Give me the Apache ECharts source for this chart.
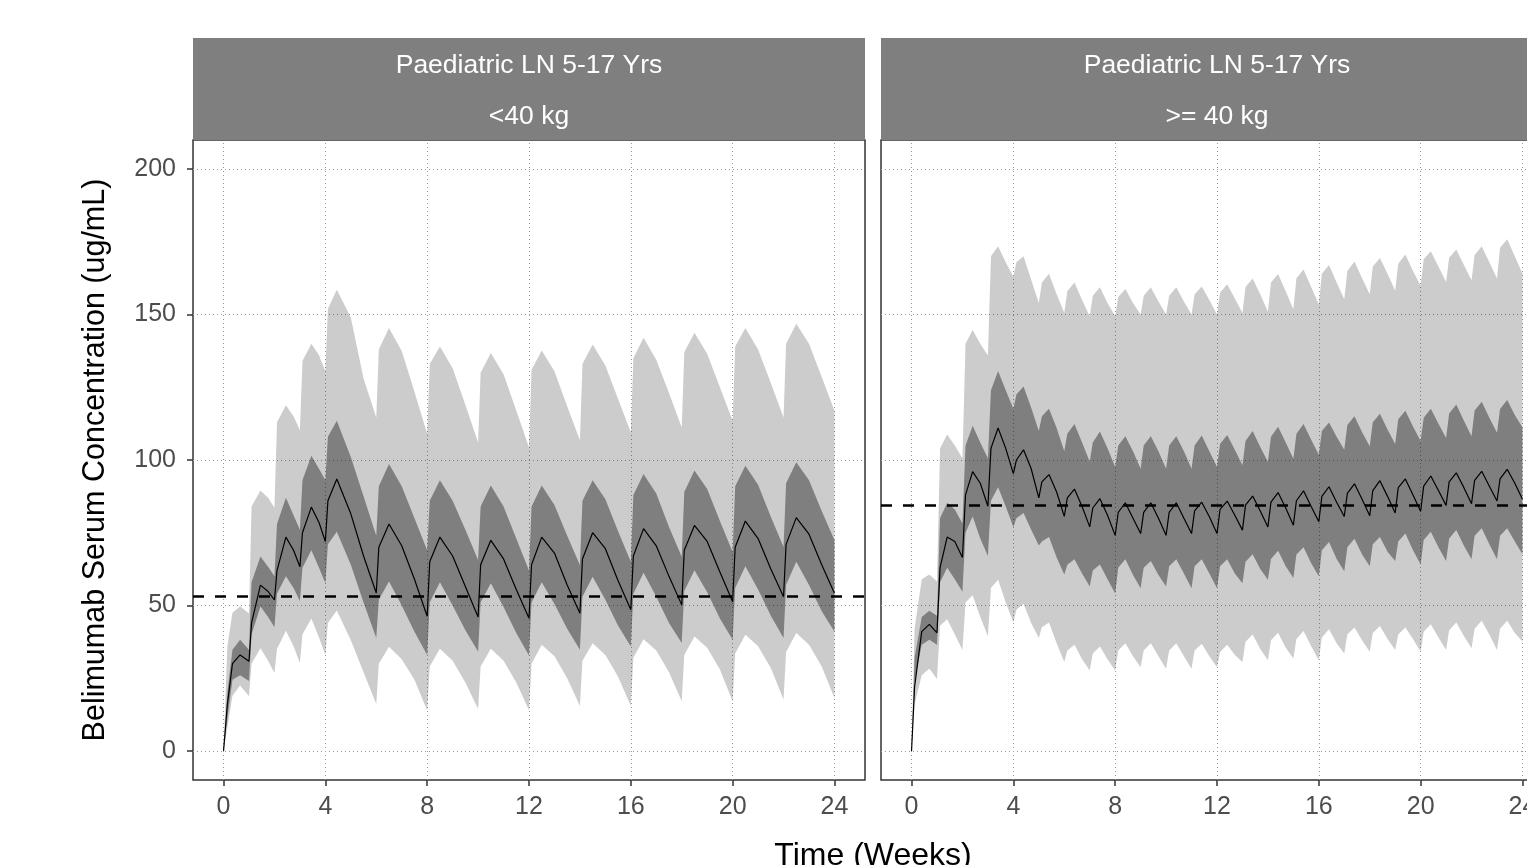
<!DOCTYPE html>
<html>
<head>
<meta charset="utf-8">
<title>Belimumab serum concentration - Paediatric LN</title>
<script src="https://cdn.jsdelivr.net/npm/echarts@6.0.0/dist/echarts.min.js"></script>
<style>
  html, body { margin: 0; padding: 0; background: #fff; overflow: hidden; }
  #chart { width: 1527px; height: 865px; }
</style>
</head>
<body>
<div id="chart"></div>
<script>
// axis ticks
const weekTicks = [0, 4, 8, 12, 16, 20, 24];
const concTicks = [0, 50, 100, 150, 200];

const stripTitle = 'Paediatric LN 5-17 Yrs';
const stripGroups = ['<40 kg', '>= 40 kg'];
const targetConc = [53.2, 84.4]; // dashed line, one per panel

// <40 kg panel: weeks and 5th / 25th / 50th / 75th / 95th percentiles (ug/mL)
const lowWtWeeks = [
  0, 0.15, 0.35, 0.65,
  1, 1.1, 1.45, 1.75,
  2, 2.1, 2.45, 2.75,
  3, 3.1, 3.45, 3.75,
  4, 4.1, 4.45, 5, 5.5,
  6, 6.1, 6.5, 7, 7.5,
  8, 8.1, 8.5, 9, 9.5,
  10, 10.1, 10.5, 11, 11.5,
  12, 12.1, 12.5, 13, 13.5,
  14, 14.1, 14.5, 15, 15.5,
  16, 16.1, 16.5, 17, 17.5,
  18, 18.1, 18.5, 19, 19.5,
  20, 20.1, 20.5, 21, 21.5,
  22, 22.1, 22.5, 23, 23.5,
  24
];
const lowWtP05 = [
  0, 8, 19, 22.5,
  18.8, 30, 35.3, 31,
  26.8, 35, 41.3, 36,
  30.2, 40, 45.5, 39,
  33, 44, 48.3, 38, 27,
  16.1, 30, 35.8, 31.5, 24.5,
  13.9, 29, 35.1, 31, 23.5,
  14.4, 29, 35.1, 31, 23.5,
  14, 30, 36.5, 32.5, 25,
  15.4, 31, 37, 33, 25.5,
  15.4, 32, 38.4, 34.5, 27,
  17.1, 33, 39.3, 35.5, 28,
  17.1, 33.5, 39.9, 36, 28.5,
  17.7, 34, 40.5, 36.5, 29,
  18.2
];
const lowWtP25 = [
  0, 11, 24.5, 26,
  24, 40, 49.6, 46,
  42.5, 54, 60, 56,
  51.5, 63, 69, 63,
  57.6, 71, 75.3, 64, 51,
  38.8, 52, 58.2, 50, 41,
  33, 51, 58, 50, 41.5,
  34.2, 51, 57.6, 49.5, 40.5,
  32.8, 51, 58, 50.5, 42,
  34.8, 53, 59.9, 52, 43,
  35.9, 54, 61.2, 53, 44,
  37.1, 55, 62.1, 54.5, 45.5,
  38.2, 56, 63.5, 55.5, 46.5,
  38.8, 57, 65, 57, 48,
  41
];
const lowWtP50 = [
  0, 16, 30, 33,
  30.8, 44, 57, 54.8,
  51.9, 62, 73.5, 69,
  63.3, 75, 83.8, 78.5,
  72, 86, 93.5, 81.5, 67,
  54.3, 70, 78, 70.5, 59,
  46.3, 65, 73.5, 67, 56.5,
  46, 64, 72.4, 66, 55.5,
  45.6, 64, 73.5, 68, 57,
  47.3, 66, 75, 69.5, 58.5,
  48.5, 67, 76.4, 70.5, 60,
  50.2, 69, 77.5, 72, 61.5,
  51.3, 70, 79, 73, 62.5,
  53, 71, 80.2, 74.5, 64,
  54.2
];
const lowWtP75 = [
  0, 20, 34.8, 38.2,
  34.8, 58, 66.8, 63.3,
  60, 78, 87, 81,
  76, 93, 101.5, 97,
  93, 108, 113.5, 101, 87.5,
  74, 91, 98.6, 91, 80,
  69, 86, 93, 86, 76,
  65.6, 84, 91.2, 84, 73,
  62, 84, 91.2, 84.5, 74,
  63.9, 86, 93, 86.5, 75.5,
  65, 88, 95.2, 88.5, 77,
  66.7, 89, 96.4, 90, 79,
  68.4, 91, 98, 91.5, 80.5,
  70.1, 92, 99.2, 93, 82.5,
  72.4
];
const lowWtP95 = [
  0, 36, 47.5, 49.7,
  47.2, 84, 89.5, 87,
  83.6, 113, 118.8, 115,
  110.2, 134, 140, 136,
  130.5, 152, 158.5, 149, 128,
  114.6, 138, 145.4, 137.5, 123.5,
  109, 133, 139, 131.5, 119,
  106, 130, 136.8, 129.5, 117,
  104.3, 131, 137.6, 130.5, 118.5,
  106.8, 133, 139.7, 132.5, 121,
  109.5, 135, 142, 134.5, 123,
  111.2, 137, 143.7, 136.5, 125,
  113.5, 139, 145.4, 138, 126.5,
  114.6, 140, 146.8, 140, 128.5,
  116.9
];

// >= 40 kg panel
const highWtWeeks = [
  0, 0.12, 0.4, 0.7,
  1, 1.12, 1.4, 1.7,
  2, 2.12, 2.4, 2.7,
  3, 3.12, 3.4, 3.7,
  4, 4.12, 4.4, 4.7,
  5, 5.12, 5.4, 5.7,
  6, 6.12, 6.4, 6.7,
  7, 7.12, 7.4, 7.7,
  8, 8.12, 8.4, 8.7,
  9, 9.12, 9.4, 9.7,
  10, 10.12, 10.4, 10.7,
  11, 11.12, 11.4, 11.7,
  12, 12.12, 12.4, 12.7,
  13, 13.12, 13.4, 13.7,
  14, 14.12, 14.4, 14.7,
  15, 15.12, 15.4, 15.7,
  16, 16.12, 16.4, 16.7,
  17, 17.12, 17.4, 17.7,
  18, 18.12, 18.4, 18.7,
  19, 19.12, 19.4, 19.7,
  20, 20.12, 20.4, 20.7,
  21, 21.12, 21.4, 21.7,
  22, 22.12, 22.4, 22.7,
  23, 23.12, 23.4, 23.7,
  24
];
const highWtP05 = [
  0, 16, 26, 28.2,
  24.7, 43, 45.3, 40,
  34.7, 51, 53.5, 46,
  39.4, 56, 58.8, 51,
  44.1, 48.5, 50.6, 44,
  38.8, 42.5, 44.1, 37,
  30.6, 34.5, 36.5, 31.5,
  27.6, 33.5, 35.9, 31.5,
  27.6, 34.5, 37, 32.5,
  28.8, 34.5, 37, 32.5,
  28.2, 34.5, 37, 32.5,
  28.2, 34.5, 36.8, 32.5,
  28.8, 34, 36.5, 33,
  30.6, 37.5, 40, 35,
  31.2, 38, 40.6, 35.5,
  31.8, 38.5, 41.2, 36,
  31.2, 39, 41.8, 37,
  33.5, 40, 42.4, 38,
  34.1, 40.5, 42.9, 38.5,
  34.7, 40, 42.4, 38.5,
  34.1, 41, 43.5, 39,
  34.7, 41.5, 44.1, 39.5,
  35.3, 42, 44.7, 40,
  34.7, 42, 44.7, 40.5,
  37.6
];
const highWtP25 = [
  0, 24, 36.5, 38.2,
  36.5, 58, 63, 59,
  54.7, 75, 80.6, 73,
  67, 86, 90.6, 84,
  77, 80, 81.8, 76,
  70.6, 72, 73.5, 66.5,
  60.6, 64, 65.9, 61,
  56.5, 62, 64.1, 59,
  54.1, 63, 65.9, 60.5,
  55.9, 63, 65.3, 60.5,
  56.5, 63.5, 65.9, 61,
  55.9, 63.5, 65.9, 61,
  55.9, 63.5, 65.9, 61,
  57.6, 65, 67.6, 62.5,
  58.8, 66, 68.8, 63.5,
  59.4, 67.5, 70, 64.5,
  60, 69, 71.8, 66,
  61.8, 70, 72.9, 67.5,
  63.5, 71, 73.5, 68.5,
  65.3, 72, 74.7, 69,
  64.1, 72.5, 75.3, 70,
  65.3, 73, 75.9, 70.5,
  65.9, 74, 76.5, 71,
  65.9, 74, 76.5, 72,
  67.6
];
const highWtP50 = [
  0, 22, 41, 43.5,
  40.6, 63, 73.5, 72,
  66.5, 88, 96, 92,
  84.1, 104, 111, 104,
  95.3, 100, 103.5, 97,
  87, 92.5, 95, 89,
  80.6, 87, 90, 84,
  77, 83.5, 86.7, 81,
  74.1, 82, 85.3, 80,
  74.7, 82, 85.3, 80,
  74.1, 82, 85.3, 80,
  74.7, 82.5, 85.5, 80.5,
  74.7, 83, 85.9, 81,
  75.9, 84.5, 87.6, 82.5,
  77, 85.5, 88.8, 83.5,
  77.6, 86, 89.4, 84,
  78.8, 87.5, 90.8, 85.5,
  80.6, 88.5, 91.8, 86.5,
  80.8, 89.5, 92.9, 87.5,
  81.8, 90.5, 93.5, 88,
  82.4, 91, 94.5, 89.5,
  84.4, 92.5, 95.6, 90.5,
  85, 93, 96.1, 91,
  85.9, 93.5, 96.8, 92,
  86.5
];
const highWtP75 = [
  0, 32, 46, 48.2,
  46.5, 80, 85.3, 83,
  78.2, 105, 111.8, 106,
  100.6, 124, 130.6, 124,
  117.6, 122.5, 125.3, 118,
  110, 115, 117.6, 111,
  103, 109, 112.4, 106,
  99.4, 106, 109.8, 104,
  97.6, 105, 108.2, 103,
  97, 105, 108.2, 103,
  97, 105, 108.2, 103,
  97, 105, 108.4, 103,
  97.6, 105.5, 108.6, 103.5,
  98.2, 106.5, 110, 104.5,
  99.4, 108, 111.4, 106,
  100.4, 109, 112.4, 107,
  101.8, 110, 112.9, 108,
  103.5, 112, 115, 109.5,
  104.7, 113, 115.9, 110.5,
  105.5, 114, 116.9, 111.5,
  106.5, 114.5, 117.6, 112.5,
  107.6, 116, 119.1, 113.5,
  108.2, 117, 120, 114.5,
  109.4, 117.5, 120.6, 115.5,
  111.2
];
const highWtP95 = [
  0, 42, 59, 60.6,
  58.2, 104, 108.8, 105,
  100.6, 140, 144.7, 140,
  135.9, 170, 173.5, 168,
  163, 168, 170, 162,
  154, 161, 164, 157,
  150.6, 158, 161, 155,
  149.4, 156.5, 159.4, 154,
  149.4, 156, 158.8, 154,
  150, 156.5, 159.4, 154.5,
  150, 156.5, 159.4, 154.5,
  150, 157, 159.6, 155,
  150, 157.5, 160.4, 155.5,
  150.6, 159.5, 162.4, 157,
  151, 161, 163.9, 158,
  151.8, 162.5, 165.5, 159.5,
  153.5, 164, 167, 161,
  155.3, 165, 168.2, 162.5,
  157, 166.5, 169.4, 164,
  158.2, 167.5, 170.6, 165,
  160, 169, 171.8, 166.5,
  161.2, 169.5, 172.4, 167,
  161.8, 170.5, 173.5, 168,
  162.4, 173, 175.9, 170,
  164.1
];

const panels = [
  { weeks: lowWtWeeks, p05: lowWtP05, p25: lowWtP25, p50: lowWtP50, p75: lowWtP75, p95: lowWtP95 },
  { weeks: highWtWeeks, p05: highWtP05, p25: highWtP25, p50: highWtP50, p75: highWtP75, p95: highWtP95 }
];

// layout (px)
const panelLeft = [193, 881];
const panelTop = 140;
const panelW = 672;
const panelH = 640;
const stripTop = 38;
const font = '"Liberation Sans", Arial, sans-serif';

const chart = echarts.init(document.getElementById('chart'), null, { renderer: 'canvas' });

// ribbon between two percentile lines, drawn as one polygon
function ribbon(k, weeks, lo, hi, fill, z) {
  const rows = weeks.map((t, i) => [t, lo[i], hi[i]]);
  return {
    type: 'custom',
    xAxisIndex: k,
    yAxisIndex: k,
    z: z,
    silent: true,
    data: rows,
    encode: { x: 0, y: [1, 2] },
    renderItem: function (params, api) {
      if (params.dataIndex !== 0) return null;
      const pts = [];
      for (let i = 0; i < rows.length; i++) pts.push(api.coord([rows[i][0], rows[i][2]]));
      for (let i = rows.length - 1; i >= 0; i--) pts.push(api.coord([rows[i][0], rows[i][1]]));
      return { type: 'polygon', shape: { points: pts }, style: { fill: fill } };
    }
  };
}

const grids = [], xAxes = [], yAxes = [], series = [], graphics = [];

panels.forEach((p, k) => {
  grids.push({
    left: panelLeft[k], top: panelTop, width: panelW, height: panelH,
    show: true, backgroundColor: '#fff', borderColor: '#333', borderWidth: 1.5,
    containLabel: false, outerBoundsMode: 'none'
  });
  xAxes.push({
    type: 'value', gridIndex: k, min: -1.2, max: 25.2,
    axisLine: { show: false, onZero: false },
    splitLine: { show: false },
    axisTick: { show: true, customValues: weekTicks, length: 6, lineStyle: { color: '#333', width: 1.5 } },
    axisLabel: { customValues: weekTicks, color: '#4d4d4d', fontSize: 25, fontFamily: font, margin: 15 }
  });
  yAxes.push({
    type: 'value', gridIndex: k, min: -10, max: 210,
    axisLine: { show: false, onZero: false },
    splitLine: { show: false },
    axisTick: { show: k === 0, customValues: concTicks, length: 6, lineStyle: { color: '#333', width: 1.5 } },
    axisLabel: { show: k === 0, customValues: concTicks, color: '#4d4d4d', fontSize: 25, fontFamily: font, margin: 17 }
  });

  // dotted grid lines
  series.push({
    type: 'line', xAxisIndex: k, yAxisIndex: k, data: [], silent: true, z: 1,
    markLine: {
      silent: true, symbol: 'none', z: 1, animation: false,
      label: { show: false },
      lineStyle: { color: '#9a9a9a', width: 1, type: [1, 3] },
      data: weekTicks.map(w => ({ xAxis: w })).concat(concTicks.map(c => ({ yAxis: c })))
    }
  });

  series.push(ribbon(k, p.weeks, p.p05, p.p95, 'rgba(0,0,0,0.2)', 2));
  series.push(ribbon(k, p.weeks, p.p25, p.p75, 'rgba(0,0,0,0.375)', 3));

  series.push({
    type: 'line', xAxisIndex: k, yAxisIndex: k, z: 5,
    data: p.weeks.map((t, i) => [t, p.p50[i]]),
    showSymbol: false, silent: true,
    lineStyle: { color: '#000', width: 1.2 },
    markLine: {
      silent: true, symbol: 'none', z: 6, animation: false,
      label: { show: false },
      lineStyle: { color: '#000', width: 2.6, type: [11, 11] },
      data: [{ yAxis: targetConc[k] }]
    }
  });

  const cx = panelLeft[k] + panelW / 2;
  graphics.push({
    type: 'rect', z: 20,
    shape: { x: panelLeft[k], y: stripTop, width: panelW, height: panelTop - stripTop },
    style: { fill: '#7f7f7f' }
  });
  graphics.push({
    type: 'text', z: 21, x: cx, y: 66,
    style: { text: stripTitle, fill: '#fff', fontSize: 26.5, fontFamily: font, align: 'center', verticalAlign: 'middle' }
  });
  graphics.push({
    type: 'text', z: 21, x: cx, y: 117,
    style: { text: stripGroups[k], fill: '#fff', fontSize: 26.5, fontFamily: font, align: 'center', verticalAlign: 'middle' }
  });
});

// axis titles
graphics.push({
  type: 'text', z: 21, x: 96, y: panelTop + panelH / 2, rotation: Math.PI / 2,
  style: { text: 'Belimumab Serum Concentration (ug/mL)', fill: '#000', fontSize: 30.5, fontFamily: font, align: 'center', verticalAlign: 'middle' }
});
graphics.push({
  type: 'text', z: 21, x: (panelLeft[0] + panelLeft[1] + panelW) / 2, y: 856,
  style: { text: 'Time (Weeks)', fill: '#000', fontSize: 32, fontFamily: font, align: 'center', verticalAlign: 'middle' }
});

chart.setOption({
  animation: false,
  backgroundColor: '#fff',
  grid: grids,
  xAxis: xAxes,
  yAxis: yAxes,
  series: series,
  graphic: graphics
});
</script>
</body>
</html>
